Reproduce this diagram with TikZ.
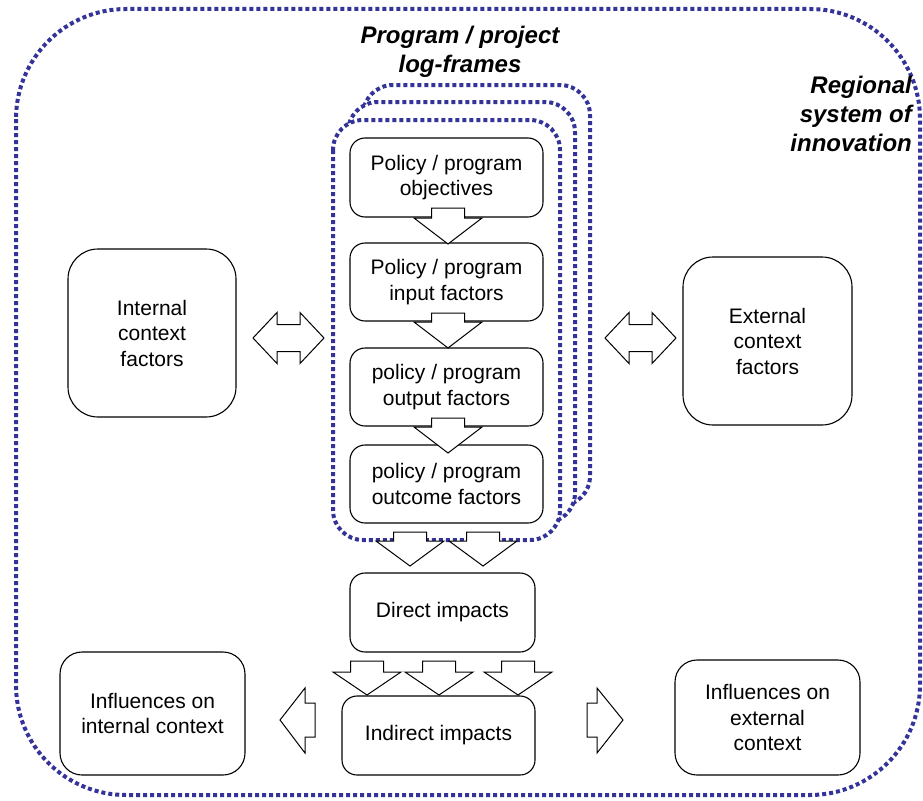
\documentclass[tikz,border=0pt]{standalone}
\usepackage{fontspec}
\setmainfont{Liberation Sans}
\definecolor{frameblue}{RGB}{51,51,153}

% white block arrow pointing down: centre x, stem top, head base, tip
\newcommand\dnarrow[4]{%
  \draw[blockarrow] (#1-16.5,#2) -- (#1+16.5,#2) -- (#1+16.5,#3) -- (#1+34,#3)
    -- (#1,#4) -- (#1-34,#3) -- (#1-16.5,#3) -- cycle;}
% white double-headed block arrow: left tip x, right tip x, centre y
\newcommand\dblarrow[3]{%
  \draw[blockarrow] (#1,#3) -- (#1+24,#3-25.5) -- (#1+24,#3-13.5) -- (#2-24,#3-13.5)
    -- (#2-24,#3-25.5) -- (#2,#3) -- (#2-24,#3+25.5) -- (#2-24,#3+13.5)
    -- (#1+24,#3+13.5) -- (#1+24,#3+25.5) -- cycle;}

\begin{document}
\begin{tikzpicture}[x=1pt,y=-1pt,
  dotframe/.style={draw=frameblue, line width=4pt, dash pattern=on 4pt off 3pt},
  box/.style={draw=black, line width=1.1pt, fill=white, rounded corners=15pt,
    align=center, inner sep=0pt, font=\fontsize{21}{25.5}\selectfont},
  blockarrow/.style={draw=black, line width=1pt, fill=white, line join=miter},
  title/.style={font=\fontsize{24}{29}\selectfont\bfseries\itshape, inner sep=0pt}]

\fill[white] (0,0) rectangle (923,800);
\useasboundingbox (0,0) rectangle (923,800);

% regional system of innovation
\draw[dotframe, rounded corners=110pt] (16,9) rectangle (920,795);

% stacked log-frames, back to front
\draw[dotframe, fill=white, rounded corners=30pt] (363,85) rectangle (590,506);
\draw[dotframe, fill=white, rounded corners=30pt] (348,102) rectangle (575,523);
\draw[dotframe, fill=white, rounded corners=30pt] (333,120) rectangle (560,540);

% titles
\node[title, align=center] (lftitle) at (460,52) {Program / project\\log-frames};
\node[title, align=right, anchor=east] (rsititle) at (912,114) {Regional\\system of\\innovation};

% log-frame chain
\node[box, minimum width=193pt, minimum height=79pt] (obj) at (446.5,177.5) {Policy / program\\objectives};
\node[box, minimum width=193pt, minimum height=78pt] (inp) at (446.5,282) {Policy / program\\input factors};
\node[box, minimum width=193pt, minimum height=78pt] (outp) at (446.5,387) {policy / program\\output factors};
\node[box, minimum width=193pt, minimum height=78pt] (outc) at (446.5,484) {policy / program\\outcome factors};

% impacts
\node[box, minimum width=185pt, minimum height=79pt] (direct) at (442.5,612.5) {Direct impacts};
\node[box, minimum width=193pt, minimum height=79pt] (indirect) at (438.5,735.5) {Indirect impacts};

% context boxes
\node[box, rounded corners=30pt, minimum width=168pt, minimum height=168pt] (intctx) at (152,333) {Internal\\context\\factors};
\node[box, rounded corners=30pt, minimum width=169pt, minimum height=168pt] (extctx) at (767.5,341) {External\\context\\factors};
\node[box, rounded corners=22pt, minimum width=185pt, minimum height=123pt] (inflint) at (152.5,713.5) {Influences on\\internal context};
\node[box, rounded corners=22pt, minimum width=185pt, minimum height=115pt] (inflext) at (767.5,717.5) {Influences on\\external\\context};

% flow arrows through the log-frame
\dnarrow{448}{208}{218}{244}
\dnarrow{448}{313}{322}{348}
\dnarrow{448}{418}{427}{453}

% from the log-frame to direct impacts
\dnarrow{410}{532}{541}{566}
\dnarrow{483}{532}{541}{566}

% from direct to indirect impacts
\dnarrow{367}{661}{672}{695}
\dnarrow{439}{661}{672}{695}
\dnarrow{518}{661}{672}{695}

% exchanges with the context factors
\dblarrow{253}{324}{338}
\dblarrow{605}{676}{338}

% influences of indirect impacts
\draw[blockarrow] (280,720) -- (305,688) -- (305,703) -- (315,703) -- (315,737)
  -- (305,737) -- (305,753) -- cycle;
\draw[blockarrow] (623,720) -- (597,688) -- (597,703) -- (587,703) -- (587,737)
  -- (597,737) -- (597,753) -- cycle;

\end{tikzpicture}
\end{document}
